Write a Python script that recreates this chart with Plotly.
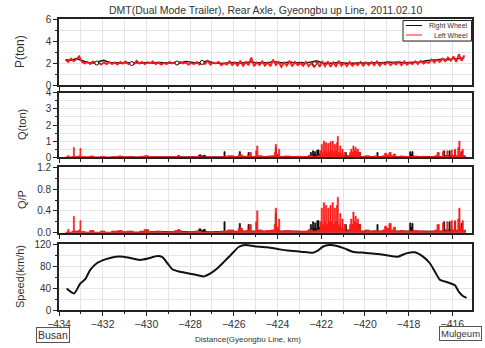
import numpy as np
import plotly.graph_objects as go

# ---------------- data ----------------
title_text = "DMT(Dual Mode Trailer), Rear Axle, Gyeongbu up Line, 2011.02.10"
x_ticks = [-434, -432, -430, -428, -426, -424, -422, -420, -418, -416]
legend_names = ["Right Wheel", "Left Wheel"]

# P (ton) - sampled positions (km)
p_red_x0, p_red_step = -433.7, 0.125
p_red = [2.3, 2.1, 2.4, 2.15, 2.35, 2.6, 2.1, 1.95,
         2.1, 1.9, 2.15, 1.95, 2.1, 1.85, 2.05, 1.9,
         2.1, 1.9, 2.05, 1.85, 2.1, 1.95, 2.15, 1.9,
         2.05, 1.9, 2.2, 1.95, 2.1, 1.9, 2.05, 2.0,
         2.15, 1.9, 2.05, 1.85, 2.0, 1.9, 2.1, 1.95,
         2.05, 1.9, 2.1, 1.95, 2.05, 1.85, 2.0, 1.9,
         2.1, 1.85, 2.05, 1.9, 2.2, 1.85, 2.05, 1.95,
         2.1, 1.8, 2.0, 1.85, 2.15, 1.8, 2.05, 1.75,
         2.2, 1.75, 2.1, 1.8, 2.5, 1.7, 2.05, 1.8,
         2.15, 1.75, 2.05, 1.7, 2.3, 1.8, 2.1, 1.65,
         2.05, 1.75, 2.2, 1.7, 2.1, 1.8, 2.0, 1.75,
         2.1, 1.7, 2.0, 1.6, 2.2, 1.65, 2.1, 1.7,
         2.15, 1.65, 2.05, 1.7, 2.2, 1.75, 2.0, 1.7,
         2.1, 1.75, 2.0, 1.8, 2.1, 1.75, 2.05, 1.8,
         2.1, 1.8, 2.15, 1.75, 2.05, 1.85, 2.1, 1.8,
         2.05, 1.85, 2.1, 1.8, 2.15, 1.85, 2.05, 1.9,
         2.15, 1.9, 2.2, 1.95, 2.1, 2.0, 2.3, 2.05,
         2.3, 2.1, 2.4, 2.15, 2.5, 2.2, 2.6, 2.1,
         2.8, 2.2, 2.7]

p_black_x0, p_black_step = -433.7, 0.25
p_black = [2.3, 2.25, 2.4, 2.2,
           2.05, 2.0, 2.1, 2.25,
           2.05, 2.0, 2.0, 2.05,
           2.0, 2.05, 2.0, 2.05,
           2.0, 2.05, 2.0, 2.0,
           2.05, 2.0, 2.15, 2.05,
           2.0, 2.05, 2.2, 2.0,
           2.0, 1.95, 2.05, 2.0,
           2.0, 2.05, 2.1, 2.0,
           2.05, 2.0, 2.15, 2.05,
           2.0, 2.1, 2.0, 2.05,
           2.0, 2.1, 2.2, 2.0,
           1.95, 2.0, 2.05, 2.0,
           1.95, 2.0, 2.0, 1.95,
           2.0, 2.05, 2.0, 2.1,
           2.05, 2.1, 2.0, 2.05,
           2.05, 2.1, 2.2, 2.25,
           2.3, 2.35, 2.3, 2.4,
           2.4, 2.45]

p_marker_x = [-432.27, -430.67, -428.6, -427.45, -422.3]
p_marker_y = [2.0, 1.95, 2.0, 2.05, 1.95]

# Q (ton) and Q/P - left wheel (red)
q_red_x = [-433.7, -433.6, -433.55, -433.4, -433.34, -433.3, -433.1, -433.04, -433.0, -432.8,
           -432.6, -432.4, -432.1, -431.9, -431.6, -431.3, -431.1, -430.9, -430.6, -430.3,
           -430.1, -429.9, -429.6, -429.3, -429.0, -428.7, -428.4, -428.1, -427.8, -427.5,
           -427.2, -426.9, -426.6, -426.3, -426.0, -425.8, -425.6, -425.4, -425.3, -425.2,
           -425.0, -424.95, -424.9, -424.7, -424.5, -424.3, -424.15, -424.1, -424.05, -423.95,
           -423.9, -423.7, -423.4, -423.1, -422.8, -422.6, -422.4, -422.2, -422.05, -422.0,
           -421.95, -421.9, -421.85, -421.8, -421.75, -421.7, -421.65, -421.6, -421.55, -421.5,
           -421.45, -421.4, -421.35, -421.3, -421.26, -421.22, -421.15, -421.1, -421.05, -421.0,
           -420.95, -420.9, -420.8, -420.7, -420.65, -420.6, -420.55, -420.5, -420.45, -420.4,
           -420.35, -420.3, -420.25, -420.2, -420.0, -419.8, -419.6, -419.4, -419.2, -419.1,
           -419.0, -418.9, -418.8, -418.7, -418.6, -418.4, -418.2, -418.0, -417.8, -417.6,
           -417.4, -417.2, -417.0, -416.8, -416.7, -416.6, -416.45, -416.4, -416.25, -416.2,
           -416.05, -416.0, -415.9, -415.85, -415.75, -415.7, -415.65, -415.55, -415.5, -415.4]
q_red = [0.02, 0.1, 0.02, 0.05, 0.6, 0.05, 0.1, 0.55, 0.05, 0.03,
         0.08, 0.02, 0.06, 0.02, 0.05, 0.08, 0.03, 0.05, 0.02, 0.06,
         0.1, 0.03, 0.05, 0.02, 0.04, 0.06, 0.02, 0.03, 0.05, 0.02,
         0.04, 0.02, 0.05, 0.1, 0.05, 0.15, 0.06, 0.1, 0.3, 0.05,
         0.4, 0.7, 0.1, 0.05, 0.08, 0.1, 0.3, 0.8, 0.2, 0.5,
         0.05, 0.08, 0.05, 0.06, 0.05, 0.1, 0.05, 0.1, 0.4, 0.8,
         0.3, 1.0, 0.4, 0.9, 0.3, 0.85, 0.35, 0.95, 0.4, 1.0,
         0.3, 0.8, 0.4, 0.9, 1.3, 0.3, 0.7, 0.2, 0.5, 0.15,
         0.3, 0.05, 0.1, 0.3, 0.5, 0.3, 0.7, 0.4, 0.6, 0.35,
         0.5, 0.2, 0.3, 0.05, 0.1, 0.05, 0.08, 0.05, 0.1, 0.25,
         0.15, 0.3, 0.1, 0.2, 0.05, 0.08, 0.05, 0.05, 0.08, 0.05,
         0.06, 0.03, 0.05, 0.1, 0.3, 0.05, 0.35, 0.05, 0.4, 0.05,
         0.45, 0.1, 0.5, 0.1, 0.6, 1.0, 0.2, 0.5, 0.1, 0.05]
qp_red = [0.01, 0.06, 0.01, 0.03, 0.3, 0.03, 0.05, 0.22, 0.02, 0.01,
          0.04, 0.01, 0.03, 0.01, 0.03, 0.04, 0.02, 0.03, 0.01, 0.03,
          0.06, 0.02, 0.03, 0.01, 0.02, 0.04, 0.01, 0.02, 0.03, 0.01,
          0.02, 0.01, 0.03, 0.05, 0.03, 0.08, 0.03, 0.05, 0.15, 0.03,
          0.2, 0.4, 0.05, 0.03, 0.04, 0.05, 0.15, 0.45, 0.1, 0.25,
          0.03, 0.04, 0.03, 0.03, 0.03, 0.05, 0.03, 0.05, 0.2, 0.45,
          0.15, 0.55, 0.2, 0.5, 0.15, 0.45, 0.2, 0.5, 0.2, 0.55,
          0.15, 0.45, 0.2, 0.5, 0.65, 0.15, 0.35, 0.1, 0.25, 0.08,
          0.15, 0.03, 0.05, 0.15, 0.25, 0.15, 0.38, 0.2, 0.3, 0.18,
          0.25, 0.1, 0.15, 0.03, 0.05, 0.03, 0.04, 0.03, 0.05, 0.12,
          0.08, 0.17, 0.05, 0.1, 0.03, 0.04, 0.03, 0.03, 0.04, 0.03,
          0.03, 0.02, 0.03, 0.05, 0.15, 0.03, 0.18, 0.03, 0.2, 0.03,
          0.22, 0.05, 0.22, 0.05, 0.25, 0.45, 0.1, 0.22, 0.05, 0.02]

# Q (ton) and Q/P - right wheel (black)
q_black_x = [-433.7, -431.5, -429.8, -428.6, -428.55, -428.5, -427.7, -427.6, -427.5, -427.4,
             -427.3, -426.5, -426.45, -426.4, -425.8, -425.75, -425.7, -425.35, -425.3, -424.1,
             -424.05, -423.0, -422.6, -422.5, -422.45, -422.4, -422.35, -422.3, -422.25, -422.2,
             -422.1, -421.2, -420.9, -420.85, -420.6, -420.5, -420.4, -420.3, -420.2, -419.45,
             -419.4, -417.95, -417.9, -417.85, -417.8, -416.9, -416.4, -416.35, -416.15, -416.1,
             -415.9, -415.85, -415.6, -415.55, -415.4]
q_black = [0.0, 0.02, 0.03, 0.05, 0.12, 0.03, 0.05, 0.15, 0.08, 0.12,
           0.03, 0.02, 0.35, 0.02, 0.05, 0.35, 0.05, 0.3, 0.05, 0.6,
           0.05, 0.02, 0.1, 0.3, 0.15, 0.4, 0.2, 0.35, 0.15, 0.45,
           0.2, 0.1, 0.3, 0.1, 0.3, 0.35, 0.2, 0.3, 0.05, 0.3,
           0.05, 0.35, 0.2, 0.35, 0.05, 0.05, 0.4, 0.1, 0.4, 0.1,
           0.4, 0.05, 0.35, 0.05, 0.0]
qp_black = [0.0, 0.01, 0.02, 0.03, 0.06, 0.02, 0.03, 0.07, 0.04, 0.06,
            0.02, 0.01, 0.2, 0.01, 0.03, 0.17, 0.03, 0.15, 0.03, 0.35,
            0.03, 0.01, 0.05, 0.15, 0.08, 0.2, 0.1, 0.18, 0.08, 0.22,
            0.1, 0.05, 0.15, 0.05, 0.15, 0.17, 0.1, 0.15, 0.03, 0.15,
            0.03, 0.18, 0.1, 0.17, 0.03, 0.03, 0.2, 0.05, 0.2, 0.05,
            0.2, 0.03, 0.17, 0.03, 0.0]

# Speed (km/h)
speed_x = [-433.65, -433.31, -433.03, -432.8, -432.57, -432.27, -431.88, -431.42, -431.04, -430.58,
           -430.27, -429.89, -429.5, -429.27, -429.04, -428.81, -428.51, -428.12, -427.74, -427.39,
           -427.05, -426.75, -426.44, -426.14, -425.76, -425.45, -425.07, -424.46, -424.0, -423.54,
           -422.93, -422.39, -422.16, -421.93, -421.63, -421.24, -420.94, -420.56, -420.02, -419.41,
           -418.95, -418.49, -418.11, -417.72, -417.34, -417.03, -416.8, -416.57, -416.19, -415.88,
           -415.7, -415.5, -415.35]
speed = [39, 30, 48, 56, 73, 85, 92, 97, 97, 93,
         91, 94, 98, 96, 85, 74, 70, 67, 64, 61,
         67, 76, 88, 100, 115, 118, 116, 114, 111, 108,
         106, 104, 108, 115, 118, 116, 112, 106, 104, 102,
         99, 97, 103, 105, 97, 85, 70, 55, 50, 45,
         33, 25, 22]

# ---------------- figure ----------------
FONT = "Arial, Liberation Sans, sans-serif"
RED = "#ff1a1a"
BLACK = "#111111"
TXT = "#333333"
W, H = 485, 348
ML, MR, MT, MB = 59, 13, 19, 38
PW, PH = W - ML - MR, H - MT - MB


def px_x(px):
    return (px - ML) / PW


def px_y(py):
    return (H - MB - py) / PH


p_red_x = p_red_x0 + p_red_step * np.arange(len(p_red))
p_black_x = p_black_x0 + p_black_step * np.arange(len(p_black))

fig = go.Figure()

# Panel 1: P
fig.add_trace(go.Scatter(x=p_black_x, y=p_black, mode="lines", name=legend_names[0],
                         line=dict(color=BLACK, width=1.4), xaxis="x", yaxis="y"))
fig.add_trace(go.Scatter(x=p_red_x, y=p_red, mode="lines", name=legend_names[1],
                         line=dict(color=RED, width=1.8), xaxis="x", yaxis="y"))
fig.add_trace(go.Scatter(x=p_marker_x, y=p_marker_y, mode="markers",
                         marker=dict(symbol="circle", size=4, color="white",
                                     line=dict(width=1, color=BLACK)),
                         xaxis="x", yaxis="y"))

# Panel 2: Q
fig.add_trace(go.Scatter(x=q_black_x, y=q_black, mode="lines", fill="tozeroy",
                         fillcolor=BLACK, line=dict(color=BLACK, width=0.8, shape="hv"),
                         xaxis="x2", yaxis="y2"))
fig.add_trace(go.Scatter(x=q_red_x, y=q_red, mode="lines", fill="tozeroy",
                         fillcolor=RED, line=dict(color=RED, width=0.8, shape="hv"),
                         xaxis="x2", yaxis="y2"))

# Panel 3: Q/P
fig.add_trace(go.Scatter(x=q_black_x, y=qp_black, mode="lines", fill="tozeroy",
                         fillcolor=BLACK, line=dict(color=BLACK, width=0.8, shape="hv"),
                         xaxis="x3", yaxis="y3"))
fig.add_trace(go.Scatter(x=q_red_x, y=qp_red, mode="lines", fill="tozeroy",
                         fillcolor=RED, line=dict(color=RED, width=0.8, shape="hv"),
                         xaxis="x3", yaxis="y3"))

# Panel 4: Speed
fig.add_trace(go.Scatter(x=speed_x, y=speed, mode="lines",
                         line=dict(color=BLACK, width=2, shape="spline", smoothing=0.6),
                         xaxis="x4", yaxis="y4"))

GRID = "#e4e4ea"
xcommon = dict(range=[-434, -415.1], tickmode="array", tickvals=x_ticks,
               showline=True, linewidth=1.6, linecolor="#222", mirror=True,
               ticks="outside", ticklen=4, tickwidth=1.2, tickcolor="#222",
               minor=dict(dtick=1, tick0=-434, ticks="outside", ticklen=2.5, tickcolor="#222",
                          showgrid=True, gridcolor=GRID, gridwidth=1),
               showgrid=True, gridcolor=GRID, gridwidth=1, zeroline=False,
               tickfont=dict(family=FONT, size=10.5, color=TXT))


def yax(rng, ticks, labels, dom, minor_dtick):
    return dict(range=rng, tickmode="array", tickvals=ticks, ticktext=labels, domain=dom,
                showline=True, linewidth=1.6, linecolor="#222", mirror=True,
                ticks="outside", ticklen=4, tickwidth=1.2, tickcolor="#222",
                minor=dict(dtick=minor_dtick, ticks="outside", ticklen=2.5, tickcolor="#222",
                           showgrid=True, gridcolor=GRID),
                showgrid=True, gridcolor=GRID, zeroline=False,
                tickfont=dict(family=FONT, size=10, color=TXT))


fig.update_layout(
    width=W, height=H,
    margin=dict(l=ML, r=MR, t=MT, b=MB, autoexpand=False),
    paper_bgcolor="white", plot_bgcolor="white",
    font=dict(family=FONT, color=TXT),
    showlegend=False,
    xaxis=dict(xcommon, anchor="y", showticklabels=False),
    xaxis2=dict(xcommon, anchor="y2", showticklabels=False, matches="x"),
    xaxis3=dict(xcommon, anchor="y3", showticklabels=False, matches="x"),
    xaxis4=dict(xcommon, anchor="y4", showticklabels=True, matches="x"),
    yaxis=yax([0, 6], [0, 2, 4, 6], ["0", "2", "4", "6"], [px_y(85), 1.0], 1),
    yaxis2=yax([0, 4], [0, 1, 2, 3, 4], ["0", "1", "2", "3", "4"], [px_y(157.3), px_y(92.7)], 0.5),
    yaxis3=yax([0, 1.2], [0, 0.4, 0.8, 1.2], ["0.0", "0.4", "0.8", "1.2"],
               [px_y(232.7), px_y(167.3)], 0.2),
    yaxis4=yax([0, 120], [0, 40, 80, 120], ["0", "40", "80", "120"], [0.0, px_y(244)], 20),
)

annotations = []
shapes = []
annotations.append(dict(text=title_text, xref="paper", yref="paper", x=px_x(265), y=px_y(10),
                        xanchor="center", yanchor="middle", showarrow=False,
                        font=dict(family=FONT, size=10.5, color=TXT)))
annotations.append(dict(text="Distance(Gyeongbu Line, km)", xref="paper", yref="paper",
                        x=px_x(248), y=px_y(339), xanchor="center", yanchor="middle",
                        showarrow=False, font=dict(family=FONT, size=8, color=TXT)))

ytitles = [("P(ton)", 20, 52, 12), ("Q(ton)", 22, 125, 11), ("Q/P", 22, 200, 11),
           ("Speed(km/h)", 20, 277, 11)]
for t, px, py, s in ytitles:
    annotations.append(dict(text=t, xref="paper", yref="paper",
                            x=px_x(px), y=px_y(py), textangle=-90,
                            xanchor="center", yanchor="middle", showarrow=False,
                            font=dict(family=FONT, size=s, color=TXT)))

boxes = [("Busan", 53, 335, 10.5), ("Mulgeum", 460, 333, 9.5)]
for t, px, py, s in boxes:
    annotations.append(dict(text=t, xref="paper", yref="paper",
                            x=px_x(px), y=px_y(py),
                            xanchor="center", yanchor="middle", showarrow=False,
                            bordercolor="#555", borderwidth=1, borderpad=1, bgcolor="white",
                            font=dict(family=FONT, size=s, color=TXT)))

# legend drawn compactly (box, line samples, labels)
shapes.append(dict(type="rect", xref="paper", yref="paper", x0=px_x(403), x1=px_x(471.5),
                   y0=px_y(41), y1=px_y(20.5), line=dict(color="#222", width=1),
                   fillcolor="white", layer="above"))
for i, (nm, col) in enumerate(zip(legend_names, [BLACK, RED])):
    yy = 25.5 + 9.5 * i
    shapes.append(dict(type="line", xref="paper", yref="paper", x0=px_x(406), x1=px_x(422),
                       y0=px_y(yy), y1=px_y(yy), line=dict(color=col, width=1), layer="above"))
    annotations.append(dict(text=nm, xref="paper", yref="paper", x=px_x(470), y=px_y(yy),
                            xanchor="right", yanchor="middle", showarrow=False,
                            font=dict(family=FONT, size=7, color=TXT)))

fig.update_layout(annotations=annotations, shapes=shapes)

fig.write_html("out.html", config={"displayModeBar": False},
               post_script="document.body.style.margin='0px';document.body.style.overflow='hidden';")
